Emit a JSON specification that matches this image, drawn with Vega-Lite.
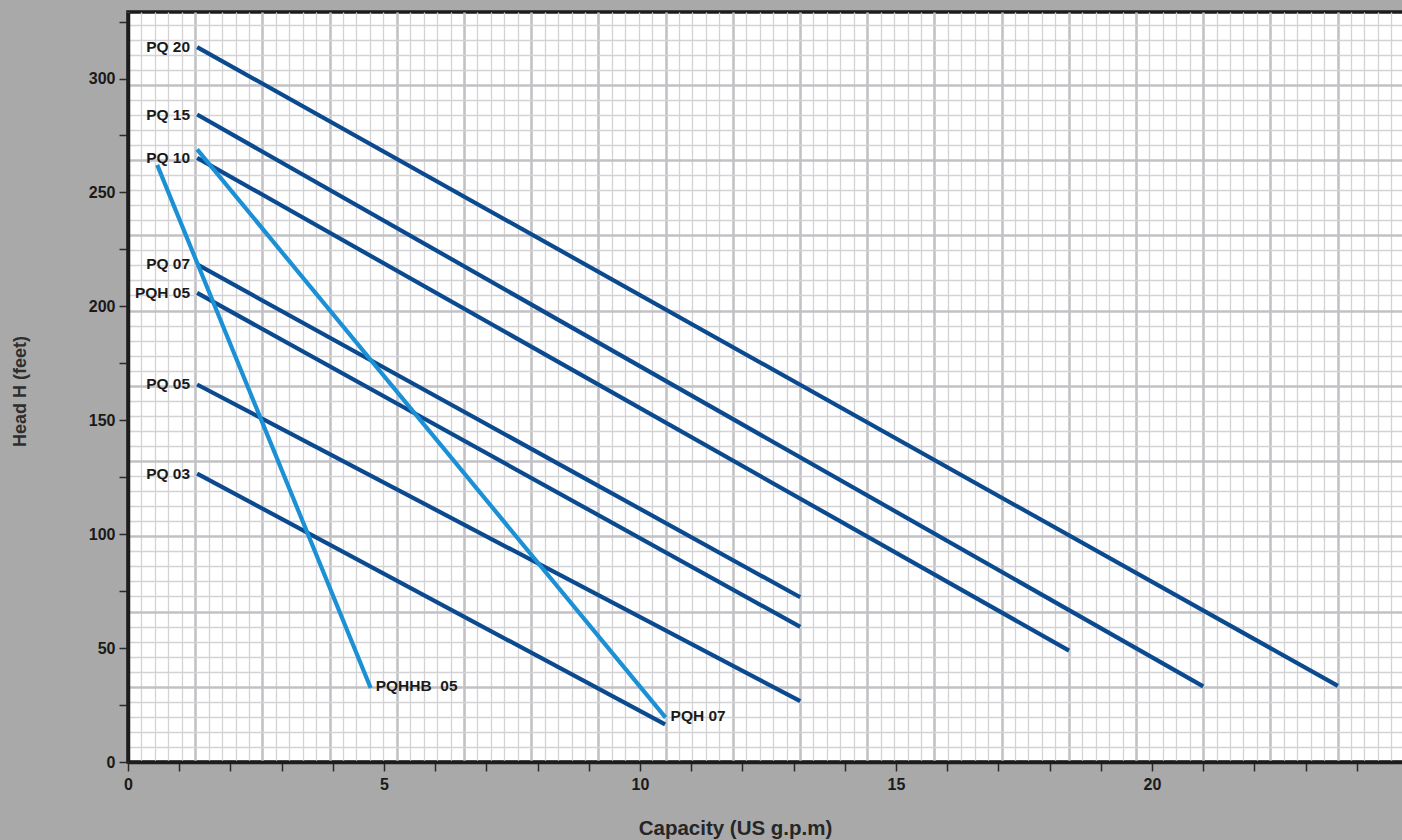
{
  "$schema": "https://vega.github.io/schema/vega-lite/v6.json",
  "width": 1280,
  "height": 750,
  "autosize": {"type": "none"},
  "padding": {"left": 128, "top": 12, "right": 0, "bottom": 78},
  "background": "#a9a9a9",
  "config": {
    "view": {"fill": "#ffffff", "stroke": "#1c1c1c", "strokeWidth": 3.5},
    "font": "Liberation Sans"
  },
  "datasets": {
    "grid": [{"lpm": 0, "m": 0}],
    "curves": [
      {"model": "PQ 20", "pt": "start", "q": 1.35, "h": 313.8},
      {"model": "PQ 20", "pt": "end", "q": 23.63, "h": 33.4},
      {"model": "PQ 15", "pt": "start", "q": 1.35, "h": 284.2},
      {"model": "PQ 15", "pt": "end", "q": 21.0, "h": 33.2},
      {"model": "PQ 10", "pt": "start", "q": 1.35, "h": 265.2},
      {"model": "PQ 10", "pt": "end", "q": 18.38, "h": 48.9},
      {"model": "PQ 07", "pt": "start", "q": 1.35, "h": 218.4},
      {"model": "PQ 07", "pt": "end", "q": 13.13, "h": 72.3},
      {"model": "PQH 05", "pt": "start", "q": 1.35, "h": 205.9},
      {"model": "PQH 05", "pt": "end", "q": 13.13, "h": 59.3},
      {"model": "PQ 05", "pt": "start", "q": 1.35, "h": 165.7},
      {"model": "PQ 05", "pt": "end", "q": 13.13, "h": 26.7},
      {"model": "PQ 03", "pt": "start", "q": 1.35, "h": 126.6},
      {"model": "PQ 03", "pt": "end", "q": 10.49, "h": 16.5},
      {"model": "PQH 07", "pt": "start", "q": 1.35, "h": 268.9},
      {"model": "PQH 07", "pt": "end", "q": 10.5, "h": 19.5},
      {"model": "PQHHB\u00a0\u00a005", "pt": "start", "q": 0.57, "h": 262.1},
      {"model": "PQHHB\u00a0\u00a005", "pt": "end", "q": 4.74, "h": 32.5}
    ]
  },
  "layer": [
    {
      "data": {"name": "grid"},
      "mark": {"type": "point", "opacity": 0},
      "encoding": {
        "x": {
          "field": "lpm", "type": "quantitative",
          "scale": {"domain": [0, 95.24], "nice": false, "zero": true},
          "axis": {
            "orient": "top", "grid": true, "domain": false, "ticks": false, "labels": false, "title": null,
            "tickCount": 95,
            "gridColor": {"condition": {"test": "datum.value % 5 === 0", "value": "#c2c2c6"}, "value": "#d3d3d6"},
            "gridWidth": {"condition": {"test": "datum.value % 5 === 0", "value": 2.6}, "value": 1.3},
            "gridOpacity": 1
          }
        },
        "y": {
          "field": "m", "type": "quantitative",
          "scale": {"domain": [0, 99.67], "nice": false, "zero": true},
          "axis": {
            "orient": "right", "grid": true, "domain": false, "ticks": false, "labels": false, "title": null,
            "tickCount": 50,
            "gridColor": {"condition": {"test": "datum.value % 10 === 0", "value": "#c2c2c6"}, "value": "#d3d3d6"},
            "gridWidth": {"condition": {"test": "datum.value % 10 === 0", "value": 2.6}, "value": 1.3},
            "gridOpacity": 1
          }
        }
      }
    },
    {
      "data": {"name": "curves"},
      "encoding": {
        "x": {
          "field": "q", "type": "quantitative",
          "scale": {"domain": [0, 25], "nice": false, "zero": true},
          "axis": {
            "orient": "bottom", "grid": false,
            "values": [0,1,2,3,4,5,6,7,8,9,10,11,12,13,14,15,16,17,18,19,20,21,22,23,24],
            "labelExpr": "datum.value % 5 === 0 ? datum.label : ''",
            "tickSize": 9, "tickWidth": 1.5, "tickColor": "#2a2a2a",
            "domainColor": "#1c1c1c", "domainWidth": 3.5,
            "labelFontSize": 16, "labelFontWeight": "bold", "labelColor": "#1a1a1a", "labelPadding": 5,
            "labelOverlap": false, "labelFlush": false,
            "title": "Capacity (US g.p.m)", "titleFontSize": 20.5, "titleFontWeight": "bold", "titleColor": "#262626",
            "titleX": 607, "titleY": 66, "titleBaseline": "middle", "titleAlign": "center"
          }
        },
        "y": {
          "field": "h", "type": "quantitative",
          "scale": {"domain": [0, 329.2], "nice": false, "zero": true},
          "axis": {
            "orient": "left", "grid": false,
            "values": [0,25,50,75,100,125,150,175,200,225,250,275,300,325],
            "labelExpr": "datum.value % 50 === 0 ? datum.label : ''",
            "tickSize": 9, "tickWidth": 1.5, "tickColor": "#2a2a2a",
            "domainColor": "#1c1c1c", "domainWidth": 3.5,
            "labelFontSize": 16, "labelFontWeight": "bold", "labelColor": "#1a1a1a", "labelPadding": 4,
            "labelOverlap": false, "labelFlush": false,
            "title": "Head H (feet)", "titleFontSize": 18, "titleFontWeight": "bold", "titleColor": "#2e2e2e",
            "titleAngle": -90, "titleX": -108, "titleY": 379, "titleBaseline": "middle", "titleAlign": "center"
          }
        }
      },
      "layer": [
        {
          "mark": {"type": "line", "strokeWidth": 4.2, "strokeCap": "butt"},
          "encoding": {
            "detail": {"field": "model"},
            "color": {
              "field": "model", "type": "nominal", "legend": null,
              "scale": {
                "domain": ["PQ 20", "PQ 15", "PQ 10", "PQ 07", "PQH 05", "PQ 05", "PQ 03", "PQH 07", "PQHHB\u00a0\u00a005"],
                "range": ["#0b4a8f", "#0b4a8f", "#0b4a8f", "#0b4a8f", "#0b4a8f", "#0b4a8f", "#0b4a8f", "#1b90d4", "#1b90d4"]
              }
            }
          }
        },
        {
          "transform": [{"filter": "datum.pt === 'start' && datum.model !== 'PQH 07' && datum.model !== 'PQHHB\u00a0\u00a005'"}],
          "mark": {"type": "text", "align": "right", "baseline": "middle", "dx": -7, "fontSize": 15.5, "fontWeight": "bold", "color": "#1a1a1a"},
          "encoding": {"text": {"field": "model"}}
        },
        {
          "transform": [{"filter": "datum.pt === 'end' && (datum.model === 'PQH 07' || datum.model === 'PQHHB\u00a0\u00a005')"}],
          "mark": {"type": "text", "align": "left", "baseline": "middle", "dx": 5, "dy": -2, "fontSize": 15.5, "fontWeight": "bold", "color": "#1a1a1a"},
          "encoding": {"text": {"field": "model"}}
        }
      ]
    }
  ],
  "resolve": {"scale": {"x": "independent", "y": "independent"}, "axis": {"x": "independent", "y": "independent"}}
}
